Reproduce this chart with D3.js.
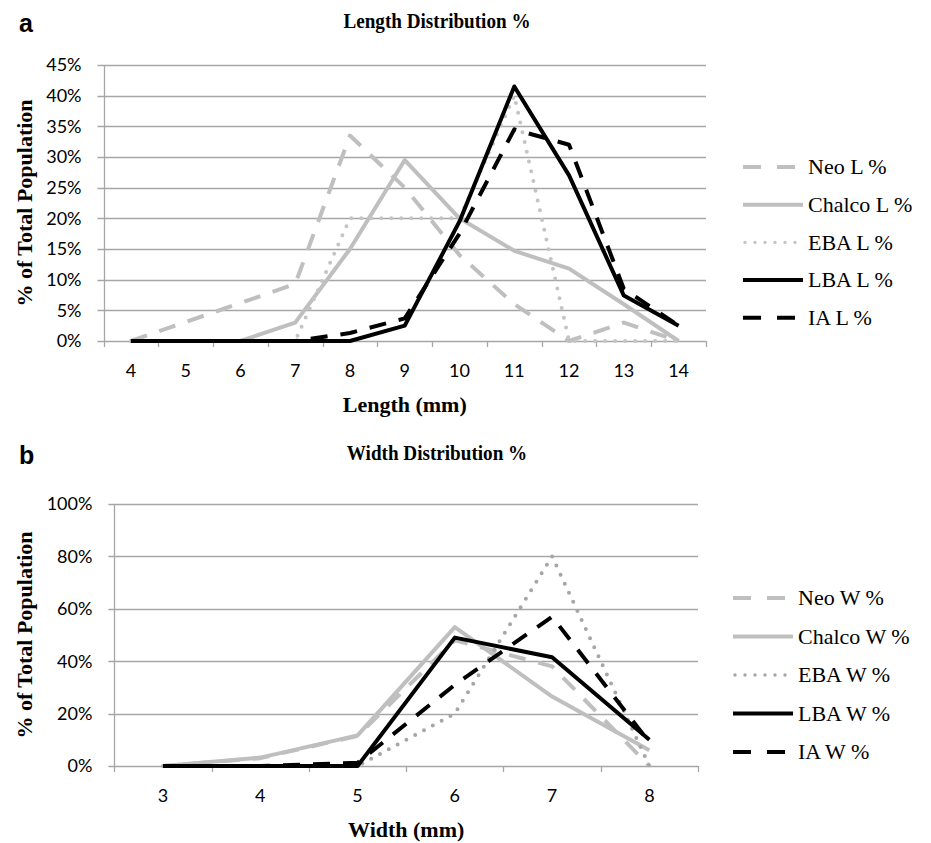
<!DOCTYPE html>
<html>
<head>
<meta charset="utf-8">
<script src="https://cdn.jsdelivr.net/npm/d3@7"></script>
<style>
  body { margin: 0; background: #fff; }
  svg { display: block; }
</style>
</head>
<body>
<svg id="chart" width="931" height="843"></svg>
<script>
'use strict'

// Panel a: length distribution (% of total population per mm class)
const lengthCategories = [4, 5, 6, 7, 8, 9, 10, 11, 12, 13, 14]
const lengthTicks = [0, 5, 10, 15, 20, 25, 30, 35, 40, 45]
const neoL = [0, 3.1, 6.2, 9.3, 33.5, 25, 14, 6, 0, 3, 0]
const chalcoL = [0, 0, 0, 3, 15, 29.5, 20, 14.7, 11.8, 6, 0]
const ebaL = [0, 0, 0, 0, 20, 20, 20, 40, 0, 0, 0]
const lbaL = [0, 0, 0, 0, 0, 2.5, 19.5, 41.5, 27, 7.4, 2.5]
const iaL = [0, 0, 0, 0, 1.3, 3.7, 17.5, 34.5, 32, 8.5, 2.5]

// Panel b: width distribution
const widthCategories = [3, 4, 5, 6, 7, 8]
const widthTicks = [0, 20, 40, 60, 80, 100]
const neoW = [0, 3, 11.5, 48, 38, 0]
const chalcoW = [0, 3.2, 11.7, 53, 26.5, 6]
const ebaW = [0, 0, 0, 20, 80, 0]
const lbaW = [0, 0, 0, 49, 41.5, 10]
const iaW = [0, 0, 1.2, 31, 57, 9]

const lineStyles = {
  neo: { color: '#bfbfbf', dash: '17,13', legendDash: '18,16', cap: 'butt', width: 4 },
  chalco: { color: '#bfbfbf', dash: null, cap: 'butt', width: 4 },
  ebaLight: { color: '#c4c4c4', dash: '0,10', legendDash: '0,10', cap: 'round', width: 4 },
  ebaDark: { color: '#a6a6a6', dash: '0,10', legendDash: '0,10', cap: 'round', width: 4 },
  lba: { color: '#000000', dash: null, cap: 'butt', width: 4 },
  ia: { color: '#000000', dash: '17,13', legendDash: '18,16', cap: 'butt', width: 4 }
}

const tickFont = 'Lato, "Open Sans", sans-serif'
const serifFont = '"Liberation Serif", "DejaVu Serif", serif'
const axisGrey = '#a6a6a6'

class LineChart {
  constructor (svg, settings) {
    this.svg = svg
    Object.assign(this, settings)
  }

  draw () {
    const g = this.svg.append('g')

    const x = d3.scaleBand()
      .domain(this.categories)
      .range([this.box.left, this.box.right])
    const y = d3.scaleLinear()
      .domain([0, d3.max(this.ticks)])
      .range([this.box.bottom, this.box.top])
    const cx = c => x(c) + x.bandwidth() / 2

    // horizontal gridlines plus the little outward tick on the left
    g.append('g')
      .selectAll('line')
      .data(this.ticks)
      .join('line')
      .attr('x1', this.box.left - 6)
      .attr('x2', this.box.right)
      .attr('y1', d => Math.round(y(d)) + 0.5)
      .attr('y2', d => Math.round(y(d)) + 0.5)
      .attr('stroke', axisGrey)
      .attr('stroke-width', 1.3)

    g.append('line')
      .attr('x1', Math.round(this.box.left) + 0.5)
      .attr('x2', Math.round(this.box.left) + 0.5)
      .attr('y1', this.box.top)
      .attr('y2', this.box.bottom)
      .attr('stroke', axisGrey)
      .attr('stroke-width', 1.3)

    // x ticks sit between categories, Excel style
    const edges = this.categories.map(c => x(c)).concat([x.range()[1]])
    g.append('g')
      .selectAll('line')
      .data(edges)
      .join('line')
      .attr('x1', d => Math.round(d) + 0.5)
      .attr('x2', d => Math.round(d) + 0.5)
      .attr('y1', this.box.bottom)
      .attr('y2', this.box.bottom + 6)
      .attr('stroke', axisGrey)
      .attr('stroke-width', 1.3)

    g.append('g')
      .selectAll('text')
      .data(this.ticks)
      .join('text')
      .attr('x', this.box.left - 22)
      .attr('y', d => y(d))
      .attr('dy', '0.36em')
      .attr('text-anchor', 'end')
      .style('font-family', tickFont)
      .style('font-size', '18px')
      .text(d => d + '%')

    g.append('g')
      .selectAll('text')
      .data(this.categories)
      .join('text')
      .attr('x', cx)
      .attr('y', this.box.bottom + 36)
      .attr('text-anchor', 'middle')
      .style('font-family', tickFont)
      .style('font-size', '18px')
      .text(d => d)

    const line = d3.line()
      .x((d, i) => cx(this.categories[i]))
      .y(d => y(d))

    this.series.forEach(s => {
      const style = lineStyles[s.style]
      g.append('path')
        .datum(s.values)
        .attr('d', line)
        .attr('fill', 'none')
        .attr('stroke', style.color)
        .attr('stroke-width', style.width)
        .attr('stroke-linejoin', 'round')
        .attr('stroke-linecap', style.cap)
        .attr('stroke-dasharray', style.dash)
    })

    // chart title is a narrow bold serif in the original
    g.append('text')
      .attr('transform', `translate(${this.titleX}, ${this.titleY}) scale(0.87, 1)`)
      .attr('text-anchor', 'middle')
      .style('font-family', serifFont)
      .style('font-weight', 'bold')
      .style('font-size', '22px')
      .text(this.title)

    g.append('text')
      .attr('x', 19)
      .attr('y', this.panelY)
      .style('font-family', '"Liberation Sans", Arial, sans-serif')
      .style('font-weight', 'bold')
      .style('font-size', '25px')
      .text(this.panel)

    g.append('text')
      .attr('x', (this.box.left + this.box.right) / 2)
      .attr('y', this.box.bottom + 71)
      .attr('text-anchor', 'middle')
      .style('font-family', serifFont)
      .style('font-weight', 'bold')
      .style('font-size', '22px')
      .text(this.xTitle)

    g.append('text')
      .attr('transform', `translate(32, ${(this.box.top + this.box.bottom) / 2}) rotate(-90)`)
      .attr('text-anchor', 'middle')
      .style('font-family', serifFont)
      .style('font-weight', 'bold')
      .style('font-size', '22px')
      .text('% of Total Population')

    // legend
    const legend = g.append('g')
      .selectAll('g')
      .data(this.series)
      .join('g')
      .attr('transform', (d, i) => `translate(${this.legendX}, ${this.legendY + i * this.legendStep})`)

    legend.append('line')
      .attr('x1', d => lineStyles[d.style].cap === 'round' ? 2 : 0)
      .attr('x2', 60)
      .attr('stroke', d => lineStyles[d.style].color)
      .attr('stroke-width', d => lineStyles[d.style].cap === 'round' ? 3.4 : 4)
      .attr('stroke-linecap', d => lineStyles[d.style].cap)
      .attr('stroke-dasharray', d => lineStyles[d.style].legendDash || null)

    legend.append('text')
      .attr('x', 65)
      .attr('dy', '0.33em')
      .style('font-family', serifFont)
      .style('font-size', '22px')
      .text(d => d.name)
  }
}

const svg = d3.select('#chart')

new LineChart(svg, {
  panel: 'a',
  title: 'Length Distribution %',
  xTitle: 'Length (mm)',
  titleX: 437,
  titleY: 28,
  panelY: 32,
  categories: lengthCategories,
  ticks: lengthTicks,
  box: { left: 103.5, right: 706, top: 65, bottom: 341 },
  legendX: 743,
  legendY: 167,
  legendStep: 37.7,
  series: [
    { name: 'Neo L %', values: neoL, style: 'neo' },
    { name: 'Chalco L %', values: chalcoL, style: 'chalco' },
    { name: 'EBA L %', values: ebaL, style: 'ebaLight' },
    { name: 'LBA L %', values: lbaL, style: 'lba' },
    { name: 'IA L %', values: iaL, style: 'ia' }
  ]
}).draw()

new LineChart(svg, {
  panel: 'b',
  title: 'Width Distribution %',
  xTitle: 'Width (mm)',
  titleX: 437,
  titleY: 460,
  panelY: 464,
  categories: widthCategories,
  ticks: widthTicks,
  box: { left: 114.4, right: 698, top: 504, bottom: 766 },
  legendX: 733,
  legendY: 598,
  legendStep: 38.5,
  series: [
    { name: 'Neo W %', values: neoW, style: 'neo' },
    { name: 'Chalco W %', values: chalcoW, style: 'chalco' },
    { name: 'EBA W %', values: ebaW, style: 'ebaDark' },
    { name: 'LBA W %', values: lbaW, style: 'lba' },
    { name: 'IA W %', values: iaW, style: 'ia' }
  ]
}).draw()
</script>
</body>
</html>
